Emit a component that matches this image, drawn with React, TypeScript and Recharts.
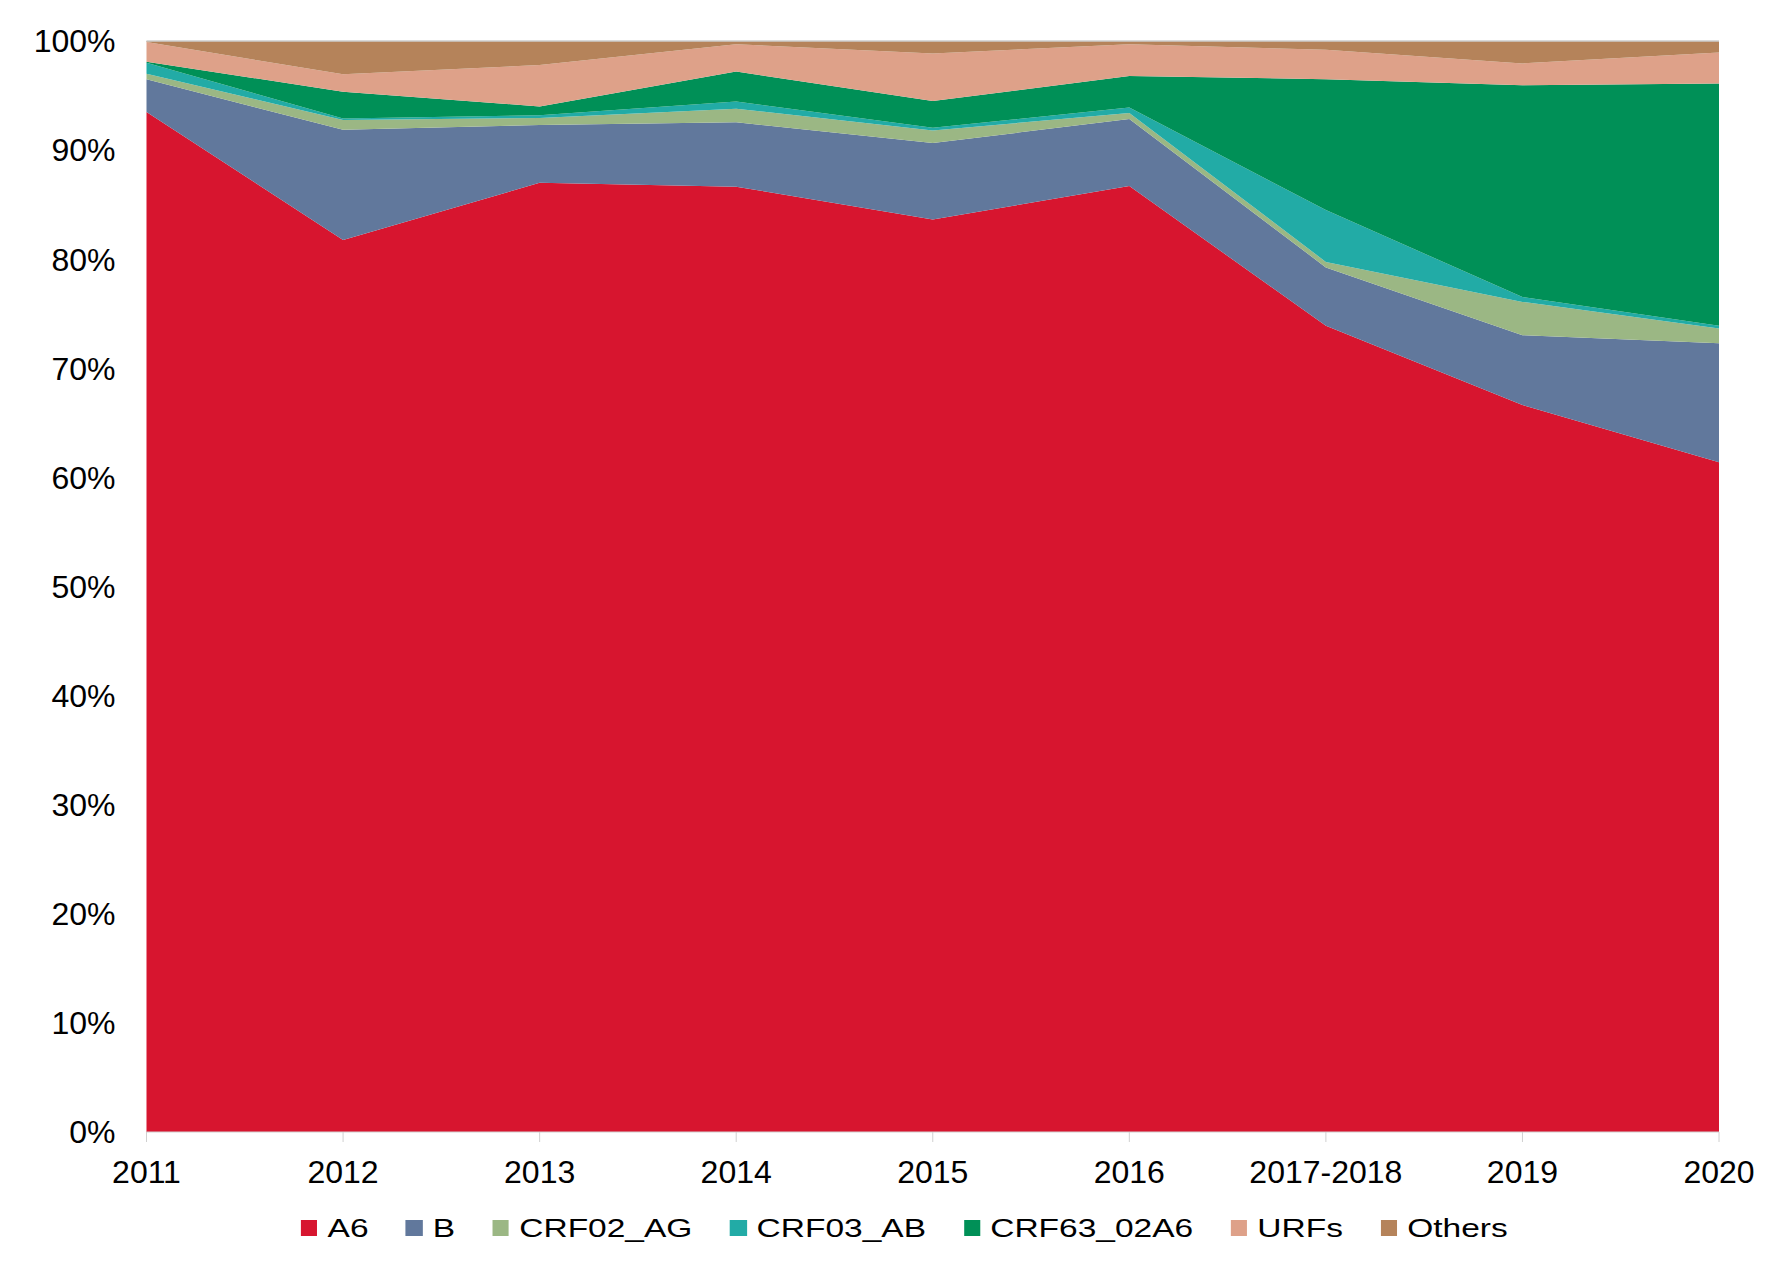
import { AreaChart, Area, XAxis, YAxis, Legend, ReferenceLine } from "recharts";

const categories = ["2011", "2012", "2013", "2014", "2015", "2016", "2017-2018", "2019", "2020"];

const a6 = [93.5, 81.8, 87.0, 86.6, 83.6, 86.7, 73.9, 66.6, 61.4];
const b = [3.0, 10.1, 5.3, 5.9, 7.0, 6.15, 5.35, 6.4, 10.9];
const crf02 = [0.5, 0.9, 0.65, 1.25, 1.15, 0.55, 0.5, 3.05, 1.35];
const crf03 = [1.0, 0.15, 0.25, 0.65, 0.25, 0.5, 4.75, 0.45, 0.25];
const crf63 = [0.1, 2.45, 0.8, 2.75, 2.45, 2.9, 12.0, 19.4, 22.2];
const urfs = [1.8, 1.6, 3.8, 2.5, 4.35, 2.9, 2.7, 2.0, 2.85];
const others = [0.1, 3.05, 2.2, 0.3, 1.15, 0.3, 0.8, 2.05, 1.05];

const yTicks = [0, 0.1, 0.2, 0.3, 0.4, 0.5, 0.6, 0.7, 0.8, 0.9, 1];

const series = [
  { key: "A6", values: a6, color: "#D7152F" },
  { key: "B", values: b, color: "#61789C" },
  { key: "CRF02_AG", values: crf02, color: "#9BB784" },
  { key: "CRF03_AB", values: crf03, color: "#22ABA6" },
  { key: "CRF63_02A6", values: crf63, color: "#009057" },
  { key: "URFs", values: urfs, color: "#DEA189" },
  { key: "Others", values: others, color: "#B5835A" },
];

const data = categories.map((year, i) => {
  const row: Record<string, string | number> = { year };
  series.forEach((s) => {
    row[s.key] = s.values[i];
  });
  return row;
});

const FONT = '"Liberation Sans", Arial, Helvetica, sans-serif';

function LegendRow() {
  return (
    <div style={{ width: 1773, height: 60, display: "flex", justifyContent: "center", paddingLeft: 19, boxSizing: "border-box" }}>
      <div style={{ display: "flex", alignItems: "center", height: 36, transform: "scaleX(1.34)", fontFamily: FONT, fontSize: 25, color: "#000" }}>
        {series.map((s, i) => (
          <div key={s.key} style={{ display: "flex", alignItems: "center", marginLeft: i === 0 ? 0 : 28 }}>
            <span style={{ display: "inline-block", width: 12.4, height: 16.5, background: s.color, marginRight: 7.5 }} />
            <span style={{ lineHeight: "36px", whiteSpace: "nowrap" }}>{s.key}</span>
          </div>
        ))}
      </div>
    </div>
  );
}

export default function App() {
  return (
    <div style={{ fontFamily: FONT }}>
      <AreaChart
        width={1773}
        height={1262}
        data={data}
        stackOffset="expand"
        margin={{ top: 33, right: 62, left: 0, bottom: 0 }}
      >
        <XAxis
          dataKey="year"
          axisLine={{ stroke: "#d0d0d0" }}
          tickLine={{ stroke: "#d0d0d0" }}
          tickSize={10}
          tickMargin={18}
          height={78}
          interval={0}
          tick={{ fill: "#000", fontSize: 32, fontFamily: FONT }}
        />
        <YAxis
          width={138.5}
          domain={[0, 1]}
          ticks={yTicks}
          axisLine={false}
          tickLine={false}
          tickSize={6}
          tickMargin={25}
          tickFormatter={(v: number) => `${Math.round(v * 100)}%`}
          tick={{ fill: "#000", fontSize: 32, fontFamily: FONT }}
        />
        {series.map((s) => (
          <Area
            key={s.key}
            type="linear"
            dataKey={s.key}
            stackId="1"
            fill={s.color}
            fillOpacity={1}
            stroke="none"
            isAnimationActive={false}
          />
        ))}
        <ReferenceLine y={1} stroke="#cccccc" strokeWidth={1.5} />
        <Legend verticalAlign="bottom" content={() => <LegendRow />} wrapperStyle={{ left: 0, width: 1773 }} />
      </AreaChart>
    </div>
  );
}
